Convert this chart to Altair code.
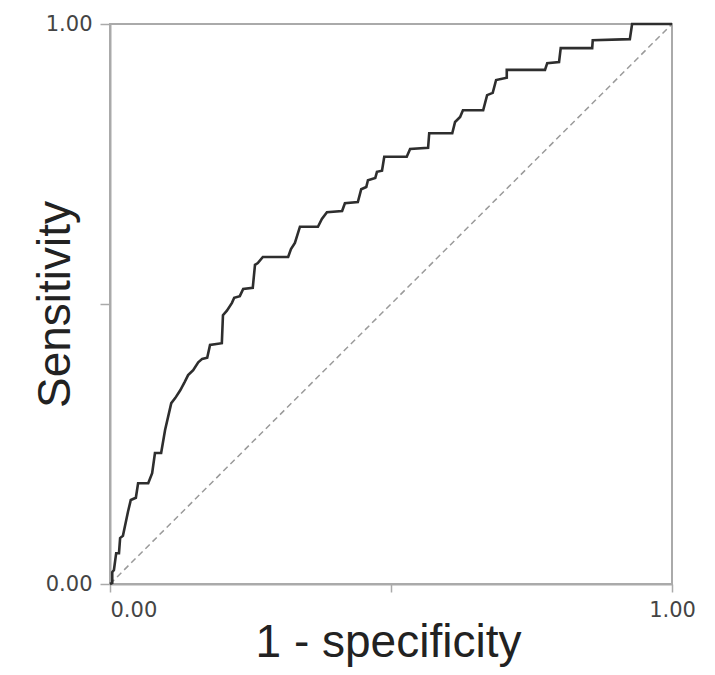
import altair as alt
import pandas as pd

# ROC curve vertices (1 - specificity, sensitivity)
fpr = [0.000, 0.004, 0.004, 0.007, 0.011, 0.016, 0.018, 0.023, 0.032, 0.037,
       0.046, 0.050, 0.068, 0.075, 0.080, 0.091, 0.098, 0.109, 0.116, 0.125,
       0.133, 0.139, 0.148, 0.157, 0.164, 0.173, 0.178, 0.199, 0.201, 0.208,
       0.217, 0.221, 0.231, 0.237, 0.254, 0.258, 0.263, 0.272, 0.317, 0.322,
       0.329, 0.338, 0.370, 0.377, 0.386, 0.413, 0.418, 0.441, 0.447, 0.456,
       0.459, 0.472, 0.475, 0.484, 0.488, 0.528, 0.534, 0.566, 0.568, 0.609,
       0.614, 0.623, 0.628, 0.664, 0.671, 0.681, 0.687, 0.706, 0.706, 0.774,
       0.778, 0.799, 0.802, 0.858, 0.859, 0.925, 0.929, 1.000]
tpr = [0.000, 0.002, 0.021, 0.025, 0.055, 0.055, 0.082, 0.086, 0.129, 0.150,
       0.154, 0.180, 0.180, 0.198, 0.234, 0.234, 0.275, 0.323, 0.332, 0.346,
       0.361, 0.373, 0.382, 0.396, 0.402, 0.404, 0.427, 0.430, 0.480, 0.488,
       0.502, 0.511, 0.514, 0.527, 0.529, 0.570, 0.573, 0.584, 0.584, 0.598,
       0.609, 0.638, 0.638, 0.652, 0.664, 0.666, 0.680, 0.682, 0.705, 0.709,
       0.721, 0.725, 0.736, 0.738, 0.763, 0.763, 0.777, 0.779, 0.805, 0.805,
       0.825, 0.834, 0.846, 0.846, 0.873, 0.877, 0.900, 0.904, 0.918, 0.918,
       0.930, 0.932, 0.957, 0.957, 0.971, 0.973, 1.000, 1.000]

# reference (chance) line
ref_x = [0.0, 1.0]
ref_y = [0.0, 1.0]

tick_values = [0.0, 0.5, 1.0]

curve_df = pd.DataFrame({"fpr": fpr, "tpr": tpr, "i": list(range(len(fpr)))})
ref_df = pd.DataFrame({"fpr": ref_x, "tpr": ref_y, "i": [0, 1]})

label_expr = "datum.value == 0.5 ? '' : format(datum.value, '.2f')"

x_enc = alt.X(
    "fpr:Q",
    scale=alt.Scale(domain=[0, 1], nice=False, zero=False),
    axis=alt.Axis(
        values=tick_values,
        labelExpr=label_expr,
        labelFlush=False,
        labelAlign={"expr": "datum.value == 0 ? 'left' : 'center'"},
        title="1 - specificity",
        titleX=278,
        titleY=72,
        titleAlign="center",
        titleBaseline="alphabetic",
        titleFontSize=46,
        titleFontWeight="normal",
        titleFont="Liberation Sans",
        titleColor="#222222",
        tickSize=8,
        labelPadding=7,
    ),
)
y_enc = alt.Y(
    "tpr:Q",
    scale=alt.Scale(domain=[0, 1], nice=False, zero=False),
    axis=alt.Axis(
        values=tick_values,
        labelExpr=label_expr,
        labelFlush=False,
        title="Sensitivity",
        titleX=-55,
        titleY=280,
        titleAngle=270,
        titleAlign="center",
        titleBaseline="middle",
        titleFontSize=46,
        titleFontWeight="normal",
        titleFont="Liberation Sans",
        titleColor="#222222",
        tickSize=10,
        labelPadding=8,
    ),
)

ref_line = alt.Chart(ref_df).mark_line(
    color="#9a9a9a", strokeWidth=1.5, strokeDash=[6, 4]
).encode(x=x_enc, y=y_enc, order="i:Q")

roc_line = alt.Chart(curve_df).mark_line(
    color="#2e2e2e", strokeWidth=2.6, interpolate="linear"
).encode(x=x_enc, y=y_enc, order="i:Q")

chart = (
    alt.layer(ref_line, roc_line)
    .properties(
        width=562,
        height=560,
        autosize=alt.AutoSizeParams(type="none"),
        padding={"left": 102, "top": 16, "right": 30, "bottom": 83},
        background="white",
    )
    .configure_view(stroke="#aaaaaa", strokeWidth=2)
    .configure_axis(
        grid=False,
        domainColor="#aaaaaa",
        domainWidth=2,
        tickColor="#aaaaaa",
        tickWidth=1.5,
        labelFont="DejaVu Sans",
        labelFontSize=21,
        labelColor="#444444",
    )
)

chart.save("out.html", embed_options={"renderer": "svg", "actions": False})
